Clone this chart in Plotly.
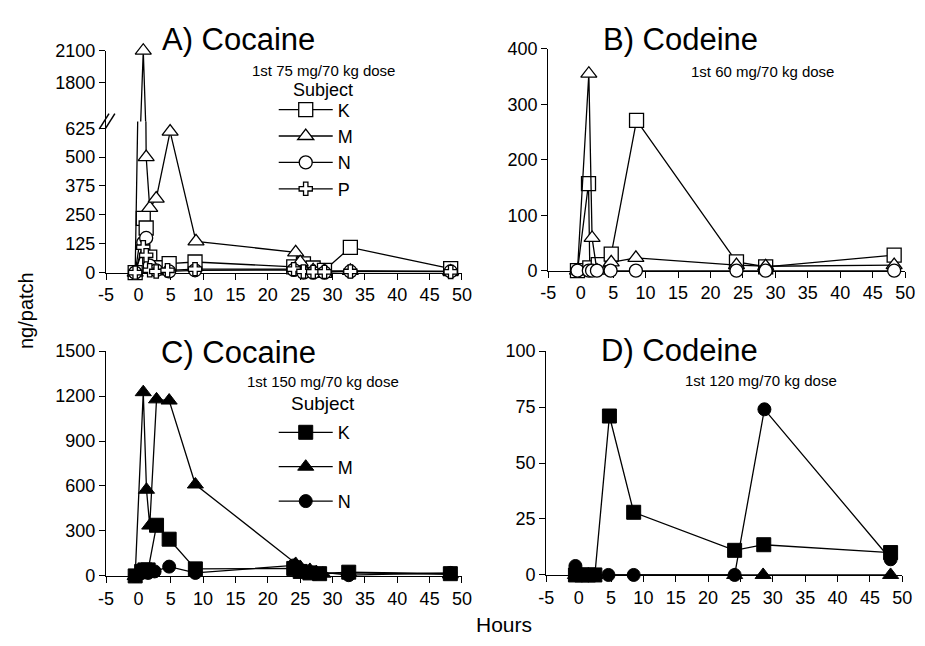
import plotly.graph_objects as go

W, H = 925, 646
FONT = "Liberation Sans, Arial, Helvetica, sans-serif"

# ---------------- data ----------------
# Panel A: cocaine 75 mg/70 kg (open symbols)
A_K_t = [-0.5, 0.75, 1.2, 1.75, 2.75, 4.75, 8.75, 24, 25.5, 27, 28.75, 32.75, 48.25]
A_K_v = [0, 235, 193, 67, 21, 39, 46, 25, 38, 20, 10, 109, 17]
A_M_t = [-0.5, 0.75, 1.2, 1.75, 2.75, 4.9, 8.9, 24.3, 25, 27, 28.75, 32.75, 48.25]
A_M_v = [0, 2100, 500, 280, 320, 610, 135, 88, 45, 10, 8, 8, 5]
A_N_t = [-0.5, 0.75, 1.2, 1.75, 2.75, 4.75, 8.75, 24, 25.5, 27, 28.75, 32.75, 48.25]
A_N_v = [0, 130, 150, 30, 10, 5, 10, 12, 0, 0, 0, 5, 5]
A_P_t = [-0.5, 0.75, 1.2, 1.75, 2.75, 4.5, 8.75, 24, 25.5, 27, 28.75, 32.75, 48.25]
A_P_v = [0, 110, 75, 10, 5, 10, 15, 15, 5, 3, 3, 5, 3]

# Panel B: codeine 60 mg/70 kg (open symbols)
B_K_t = [-0.5, 1.2, 1.4, 2.7, 4.7, 8.6, 24, 28.5, 48.3]
B_K_v = [0, 157, 5, 11, 30, 271, 16, 7, 28]
B_M_t = [-0.5, 1.25, 1.75, 2.5, 4.7, 8.5, 24, 28.5, 48.3]
B_M_v = [0, 355, 59, 0, 15, 23, 10, 8, 10]
B_N_t = [-0.5, 1.25, 1.75, 2.5, 4.6, 8.5, 24, 28.5, 48.3]
B_N_v = [0, 0, 0, 0, 0, 0, 0, 0, 0]

# Panel C: cocaine 150 mg/70 kg (filled symbols)
C_K_t = [-0.5, 0.5, 1, 1.5, 2.8, 4.75, 8.8, 24, 25, 26.5, 28, 32.5, 48.2]
C_K_v = [0, 30, 40, 40, 338, 245, 47, 50, 30, 20, 15, 25, 15]
C_M_t = [-0.5, 0.75, 1.25, 1.75, 2.8, 4.75, 8.8, 24.3, 25, 26.5, 27.5, 28.5, 32.5, 48.2]
C_M_v = [0, 1226, 575, 336, 1178, 1170, 610, 80, 60, 40, 25, 15, 20, 10]
C_N_t = [-0.5, 0.5, 1, 1.5, 2.5, 4.75, 8.8, 24, 25, 32.5, 48.2]
C_N_v = [0, 20, 25, 20, 30, 62, 20, 70, 40, 5, 20]

# Panel D: codeine 120 mg/70 kg (filled symbols)
D_K_t = [-0.5, 0.5, 1.5, 2.5, 4.75, 8.5, 24.1, 28.6, 48.2]
D_K_v = [0, 0, 0, 0, 71, 28, 11, 13.5, 10]
D_M_t = [-0.5, 0.5, 1.5, 2.5, 24.1, 28.5, 48.2]
D_M_v = [0, 0, 0, 0, 0, 0, 0]
D_N_t = [-0.5, 0, 4.6, 8.5, 24.1, 28.7, 48.2]
D_N_v = [4, 0, 0, 0, 0, 74, 7]

X_TICKS = [-5, 0, 5, 10, 15, 20, 25, 30, 35, 40, 45, 50]
X_TICK_LABELS = ["-5", "0", "5", "10", "15", "20", "25", "30", "35", "40", "45", "50"]
A_LOW_TICKS = [0, 125, 250, 375, 500, 625]
A_HIGH_TICKS = [1800, 2100]
B_TICKS = [0, 100, 200, 300, 400]
C_TICKS = [0, 300, 600, 900, 1200, 1500]
D_TICKS = [0, 25, 50, 75, 100]


def px(x):
    return x / W


def py(y):
    return 1 - y / H


fig = go.Figure()

OPEN = dict(color="white", line=dict(color="black", width=1.3))
FILL = dict(color="black", line=dict(color="black", width=1))
LINE = dict(color="black", width=1.3)

sym = {"K": "square", "M": "triangle-up", "N": "circle", "P": "cross"}
size = {"K": 14, "M": 14, "N": 13, "P": 11}


def add(t, v, name, xa, ya, filled, legend=None):
    mk = dict(symbol=sym[name], size=size[name], **(FILL if filled else OPEN))
    if legend:
        kw = dict(showlegend=True, legend=legend, legendgroup=legend + name)
    else:
        kw = dict(showlegend=False)
    fig.add_trace(go.Scatter(
        x=t, y=v, mode="lines+markers", name=name, line=LINE, marker=mk,
        xaxis=xa, yaxis=ya, cliponaxis=False, **kw))


# Panel A (lower + upper part of broken axis)
add(A_K_t, A_K_v, "K", "x", "y", False, "legend")
add(A_M_t, A_M_v, "M", "x", "y", False, "legend")
add(A_N_t, A_N_v, "N", "x", "y", False, "legend")
add(A_P_t, A_P_v, "P", "x", "y", False, "legend")
add(A_M_t, A_M_v, "M", "x2", "y2", False)
# Panel B
add(B_K_t, B_K_v, "K", "x3", "y3", False)
add(B_M_t, B_M_v, "M", "x3", "y3", False)
add(B_N_t, B_N_v, "N", "x3", "y3", False)
# Panel C
add(C_K_t, C_K_v, "K", "x4", "y4", True, "legend2")
add(C_M_t, C_M_v, "M", "x4", "y4", True, "legend2")
add(C_N_t, C_N_v, "N", "x4", "y4", True, "legend2")
# Panel D
add(D_K_t, D_K_v, "K", "x5", "y5", True)
add(D_M_t, D_M_v, "M", "x5", "y5", True)
add(D_N_t, D_N_v, "N", "x5", "y5", True)

tickfont = dict(family=FONT, size=18, color="black")
common = dict(showline=True, linecolor="black", linewidth=1.3, ticks="outside",
              ticklen=6, tickwidth=1.3, tickcolor="black", showgrid=False,
              zeroline=False, tickfont=tickfont, layer="below traces")


def xaxis(dom, anchor, visible=True):
    return dict(domain=dom, anchor=anchor, range=[-5, 50], tickmode="array",
                tickvals=X_TICKS, ticktext=X_TICK_LABELS, visible=visible, **common)


def yaxis(dom, anchor, rng, ticks):
    return dict(domain=dom, anchor=anchor, range=rng, tickmode="array",
                tickvals=ticks, **common)


# pixel geometry
A_x = [px(100), px(463)]
B_x = [px(551), px(915)]
C_x = [px(100), px(463)]
D_x = [px(549), px(912)]
BREAK = 115
low_scale = (271 - 122) / 625.0
high_scale = (75 - 42) / 300.0
A_low_top = 625 + (122 - BREAK) / low_scale
A_high_bot = 1800 - (BREAK - 75) / high_scale

legfont = dict(family=FONT, size=18, color="black")
fig.update_layout(
    width=W, height=H, margin=dict(l=0, r=0, t=0, b=0),
    paper_bgcolor="white", plot_bgcolor="rgba(0,0,0,0)",
    font=dict(family=FONT, color="black"),
    xaxis=xaxis(A_x, "y"),
    yaxis=yaxis([py(271), py(BREAK)], "x", [0, A_low_top], A_LOW_TICKS),
    xaxis2=xaxis(A_x, "y2", visible=False),
    yaxis2=yaxis([py(BREAK), py(42)], "x2", [A_high_bot, 2100], A_HIGH_TICKS),
    xaxis3=xaxis(B_x, "y3"),
    yaxis3=yaxis([py(269), py(40)], "x3", [0, 400], B_TICKS),
    xaxis4=xaxis(C_x, "y4"),
    yaxis4=yaxis([py(584), py(352)], "x4", [0, 1500], C_TICKS),
    xaxis5=xaxis(D_x, "y5"),
    yaxis5=yaxis([py(583), py(352)], "x5", [0, 100], D_TICKS),
    legend=dict(x=px(271), y=py(84), xanchor="left", yanchor="top",
                font=legfont, bgcolor="rgba(0,0,0,0)", tracegroupgap=0, itemwidth=54),
    legend2=dict(x=px(271), y=py(417), xanchor="left", yanchor="top",
                 font=legfont, bgcolor="rgba(0,0,0,0)", tracegroupgap=8, itemwidth=54),
)

ann = []


def text(x, y, s, size, angle=0):
    ann.append(dict(x=px(x), y=py(y), xref="paper", yref="paper", text=s,
                    showarrow=False, xanchor="center", yanchor="middle",
                    textangle=angle, font=dict(family=FONT, size=size, color="black")))


text(235, 30, "A) Cocaine", 31)
text(686, 30, "B) Codeine", 31)
text(235, 353, "C) Cocaine", 31)
text(685, 351, "D) Codeine", 31)
text(322, 62, "1st 75 mg/70 kg dose", 15)
text(769, 63, "1st 60 mg/70 kg dose", 15)
text(321, 383, "1st 150 mg/70 kg dose", 15)
text(768, 382, "1st 120 mg/70 kg dose", 15)
text(321, 83, "Subject", 18)
text(321, 406, "Subject", 19)
text(19, 310, "ng/patch", 20, -90)
text(506, 634, "Hours", 21)
fig.update_layout(annotations=ann)

# axis break marks on panel A's y axis
shapes = []
for dx in (0, 6):
    shapes.append(dict(type="line", xref="paper", yref="paper",
                       x0=px(93 + dx), y0=py(BREAK + 8), x1=px(103 + dx), y1=py(BREAK - 8),
                       line=dict(color="black", width=1.5)))
fig.update_layout(shapes=shapes)

fig.write_html("out.html")
